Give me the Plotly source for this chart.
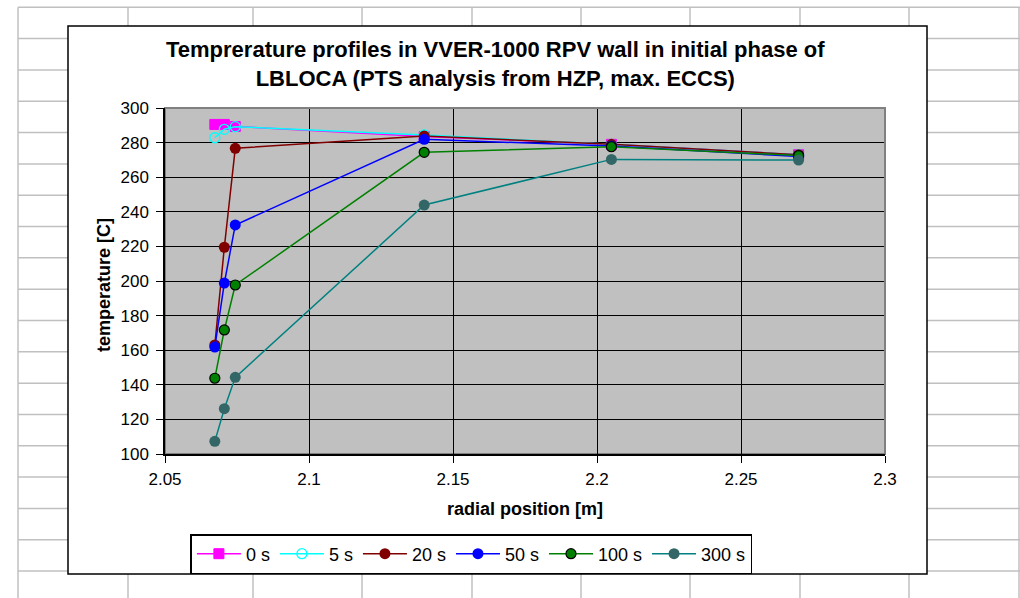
import plotly.graph_objects as go

# ---- data ----
radial_position = [2.0673, 2.0706, 2.0744, 2.14, 2.205, 2.27]
series_names = ["0 s", "5 s", "20 s", "50 s", "100 s", "300 s"]
t_0s = [290.5, 290.5, 289.3, 283.5, 279, 273]
t_5s = [282.8, 287.7, 289.2, 284.4, 279, 273]
t_20s = [163, 219.5, 276.7, 283.8, 279, 273]
t_50s = [161.8, 198.8, 232.4, 281.9, 278, 272]
t_100s = [143.8, 171.7, 197.7, 274.4, 277.6, 272.5]
t_300s = [107.3, 126.2, 144.3, 243.9, 270.3, 269.9]
x_ticks = [2.05, 2.1, 2.15, 2.2, 2.25, 2.3]
y_ticks = [100, 120, 140, 160, 180, 200, 220, 240, 260, 280, 300]

series_values = [t_0s, t_5s, t_20s, t_50s, t_100s, t_300s]

# ---- styles ----
styles = [
    dict(line="#FF00FF", marker=dict(symbol="square", color="#FF00FF", size=10,
                                      line=dict(color="#FF00FF", width=1))),
    dict(line="#00FFFF", marker=dict(symbol="circle-open", color="#00FFFF", size=10,
                                      line=dict(color="#00FFFF", width=1.3))),
    dict(line="#800000", marker=dict(symbol="circle", color="#800000", size=11,
                                      line=dict(color="#800000", width=0))),
    dict(line="#0000FF", marker=dict(symbol="circle", color="#0000FF", size=11,
                                      line=dict(color="#0000FF", width=0))),
    dict(line="#008000", marker=dict(symbol="circle", color="#008000", size=10,
                                      line=dict(color="#000000", width=1.2))),
    dict(line="#008080", marker=dict(symbol="circle", color="#336666", size=11,
                                      line=dict(color="#336666", width=0))),
]

W, H = 1020, 598
L, R, T, B = 165, 885, 108, 454  # plot area in pixels


def px(xp):
    return (xp - L) / (R - L)


def py(yp):
    return (B - yp) / (B - T)


fig = go.Figure()
for name, vals, st in zip(series_names, series_values, styles):
    fig.add_trace(go.Scatter(
        x=radial_position, y=vals, name=name, mode="lines+markers",
        line=dict(color=st["line"], width=1.5),
        marker=st["marker"],
    ))

shapes = []
grid_col = "#c0c0c0"
# spreadsheet background grid
row0, row_h = 7.3, 31.32
for k in range(0, 20):
    yy = row0 + k * row_h
    if yy > H:
        break
    shapes.append(dict(type="line", xref="paper", yref="paper", layer="below",
                       x0=px(18), x1=px(W + 5), y0=py(yy), y1=py(yy),
                       line=dict(color=grid_col, width=1.5)))
for xx in [18, 128, 253, 362, 472, 581, 690, 800, 909, 1019]:
    shapes.append(dict(type="line", xref="paper", yref="paper", layer="below",
                       x0=px(xx), x1=px(xx), y0=py(row0), y1=py(H + 5),
                       line=dict(color=grid_col, width=1.5)))
# chart box
shapes.append(dict(type="rect", xref="paper", yref="paper", layer="below",
                   x0=px(68), x1=px(927), y0=py(574), y1=py(26),
                   fillcolor="white", line=dict(color="black", width=1.5)))
# plot area
shapes.append(dict(type="rect", xref="paper", yref="paper", layer="below",
                   x0=0, x1=1, y0=0, y1=1,
                   fillcolor="#c0c0c0", line=dict(color="#808080", width=2)))
shapes.append(dict(type="line", xref="paper", yref="paper", layer="above",
                   x0=0, x1=1, y0=1, y1=1, line=dict(color="#808080", width=2)))
shapes.append(dict(type="line", xref="paper", yref="paper", layer="above",
                   x0=1, x1=1, y0=0, y1=1, line=dict(color="#808080", width=2)))

font_family = "Liberation Sans, Arial, sans-serif"

annotations = [
    dict(text="<b>Temprerature profiles in VVER-1000 RPV wall in initial phase of<br>"
              "LBLOCA (PTS analysis from HZP, max. ECCS)</b>",
         xref="paper", yref="paper", x=px(495), y=py(64), xanchor="center",
         yanchor="middle", showarrow=False,
         font=dict(family=font_family, size=22, color="black")),
    dict(text="<b>radial position [m]</b>", xref="paper", yref="paper",
         x=0.5, y=py(509), xanchor="center", yanchor="middle", showarrow=False,
         font=dict(family=font_family, size=18, color="black")),
    dict(text="<b>temperature [C]</b>", xref="paper", yref="paper",
         x=px(104), y=py(285), xanchor="center", yanchor="middle", showarrow=False,
         textangle=-90, font=dict(family=font_family, size=18, color="black")),
]

fig.update_layout(
    width=W, height=H,
    margin=dict(l=L, r=W - R, t=T, b=H - B, pad=0),
    paper_bgcolor="white",
    plot_bgcolor="rgba(0,0,0,0)",
    font=dict(family=font_family, size=17, color="black"),
    shapes=shapes,
    annotations=annotations,
    showlegend=True,
    legend=dict(orientation="h", x=px(471.4), xanchor="center",
                y=py(534), yanchor="top",
                bgcolor="white", bordercolor="black", borderwidth=1.5,
                font=dict(family=font_family, size=18, color="black"),
                itemwidth=44, traceorder="normal"),
)
fig.update_xaxes(range=[2.05, 2.3], tickvals=x_ticks,
                 ticktext=[f"{v:g}" for v in x_ticks],
                 showgrid=True, gridcolor="black", gridwidth=1,
                 ticks="outside", ticklen=7, tickcolor="black", tickwidth=1,
                 showline=True, linecolor="black", linewidth=1.5,
                 zeroline=False, ticklabelstandoff=2,
                 tickfont=dict(family=font_family, size=17, color="black"))
fig.update_yaxes(range=[100, 300], tickvals=y_ticks,
                 showgrid=True, gridcolor="black", gridwidth=1,
                 ticks="outside", ticklen=7, tickcolor="black", tickwidth=1,
                 showline=True, linecolor="black", linewidth=1.5,
                 zeroline=False, ticklabelstandoff=4,
                 tickfont=dict(family=font_family, size=17, color="black"))

fig.write_html("out.html")
